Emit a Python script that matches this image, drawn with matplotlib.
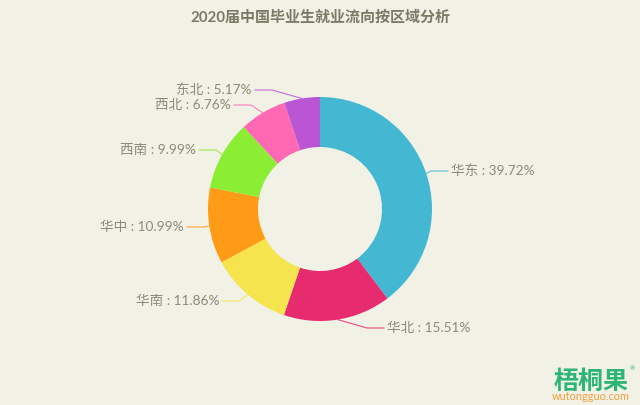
import math
import matplotlib
matplotlib.use('Agg')
import matplotlib.pyplot as plt

regions = ["华东", "华北", "华南", "华中", "西南", "西北", "东北"]
shares  = [39.72, 15.51, 11.86, 10.99, 9.99, 6.76, 5.17]
colors  = ["#44b7d3", "#e62b6f", "#f5e44e", "#ff9b17", "#8bee32", "#ff69b4", "#ba55d3"]
title   = "2020届中国毕业生就业流向按区域分析"

# where each label line ends, in pixels from the top left of the picture
label_x = [448, 384, 222, 187, 199, 234, 255]
label_y = [171, 328, 301, 227, 150, 105, 90]

W, H = 640, 405
bg = "#f2f1e6"
plt.rcParams['font.family'] = ['Lato', 'Noto Sans CJK SC', 'DejaVu Sans']

fig = plt.figure(figsize=(W / 100, H / 100), dpi=100, facecolor=bg)
ax = fig.add_axes([0, 0, 1, 1])

cx, cy, r = 320, H - 209, 112
wedges, _ = ax.pie(shares, colors=colors, startangle=90, counterclock=False,
                   center=(cx, cy), radius=r, frame=True,
                   wedgeprops=dict(width=50, linewidth=0))
ax.set_xlim(0, W)
ax.set_ylim(0, H)
ax.set_aspect('equal')
ax.axis('off')

# label lines start on the middle of each wedge
for i, w in enumerate(wedges):
    mid = math.radians((w.theta1 + w.theta2) / 2)
    x0 = cx + r * math.cos(mid)
    y0 = cy + r * math.sin(mid)
    right = x0 > cx
    step = 17 if right else -17
    xe = label_x[i]
    ye = H - label_y[i]
    ax.plot([x0, xe - step, xe], [y0, ye, ye], color=colors[i], lw=0.8, alpha=0.85,
            solid_joinstyle='round')
    ax.text(xe + (3 if right else -3), ye, regions[i] + " : %.2f%%" % shares[i],
            ha='left' if right else 'right', va='center', fontsize=9.8, color="#8b8a78")

ax.text(320, H - 18, title, ha='center', va='center', fontsize=10.8,
        fontweight='bold', color="#7c7965")

# logo bottom right
ax.text(591, H - 381, "梧桐果", ha='center', va='center', fontsize=18,
        fontweight='bold', color="#2cb574")
ax.text(591, H - 397, "wutongguo.com", ha='center', va='center', fontsize=7.8, color="#f0a040")
ax.text(632, H - 369, "®", ha='center', va='center', fontsize=4.5, color="#2cb574")

fig.savefig("out.png", dpi=100, facecolor=bg)
